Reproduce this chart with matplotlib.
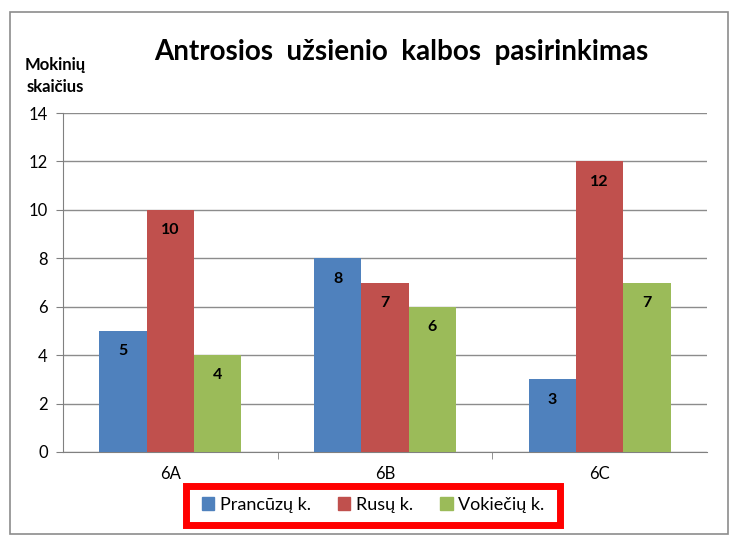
import matplotlib
matplotlib.use("Agg")
import matplotlib.pyplot as plt
import matplotlib.patches as mpatches
import numpy as np

categories = ["6A", "6B", "6C"]
series_names = ["Prancūzų k.", "Rusų k.", "Vokiečių k."]
prancuzu = [5, 8, 3]
rusu = [10, 7, 12]
vokieciu = [4, 6, 7]
yticks = [0, 2, 4, 6, 8, 10, 12, 14]
colors = ["#4F81BD", "#C0504D", "#9BBB59"]

plt.rcParams['font.family'] = ['Lato', 'DejaVu Sans']

W, H = 740, 545
fig = plt.figure(figsize=(W/100, H/100), dpi=100)
fig.patch.set_facecolor("white")

# chart border
fig.add_artist(mpatches.Rectangle((10/W, 1-534/H), (728-10)/W, (534-12)/H,
                                  transform=fig.transFigure, fill=False,
                                  edgecolor="#8c8c8c", lw=1.2))

left, right, top, bottom = 63, 707, 113, 452
ax = fig.add_axes([left/W, 1-bottom/H, (right-left)/W, (bottom-top)/H])

x = np.arange(len(categories))
bw = 0.22
for i, (vals, name) in enumerate(zip([prancuzu, rusu, vokieciu], series_names)):
    bars = ax.bar(x + (i-1)*bw, vals, bw, color=colors[i], label=name, zorder=3)
    for b, v in zip(bars, vals):
        ax.text(b.get_x()+b.get_width()/2, v - 0.55, str(v), ha="center", va="top",
                fontsize=11.5, fontweight="bold", color="black", zorder=4)

ax.set_xlim(-0.5, 2.5)
ax.set_ylim(0, 14)
ax.set_yticks(yticks)
ax.set_yticklabels([str(t) for t in yticks], fontsize=12)
ax.set_xticks(x)
ax.set_xticklabels(categories, fontsize=12)
ax.set_xticks([0.5, 1.5], minor=True)
ax.tick_params(axis="x", which="major", length=0, pad=10)
ax.tick_params(axis="x", which="minor", length=5, color="#808080")
ax.tick_params(axis="y", length=5, color="#808080", pad=6)
ax.grid(axis="y", color="#8c8c8c", lw=1, zorder=0)
for s in ["top", "right"]:
    ax.spines[s].set_visible(False)
ax.spines["left"].set_color("#808080")
ax.spines["bottom"].set_color("#808080")

fig.text(0.5*(150+652)/W, 1-52/H, "Antrosios  užsienio  kalbos  pasirinkimas",
         ha="center", va="center", fontsize=20, fontweight="bold")
fig.text(55/W, 1-76/H, "Mokinių\nskaičius", ha="center", va="center",
         fontsize=12, fontweight="bold", linespacing=1.5)

# legend with red box
handles = [mpatches.Patch(color=c) for c in colors]
leg = fig.legend(handles, series_names, loc="center", bbox_to_anchor=(373/W, 1-505/H),
                 ncol=3, frameon=False, fontsize=13, handlelength=0.7,
                 handleheight=0.7, handletextpad=0.3, columnspacing=1.5)
fig.add_artist(mpatches.Rectangle((186/W, 1-525/H), (560-186)/W, (525-486)/H,
                                  transform=fig.transFigure, fill=False,
                                  edgecolor="#FF0000", lw=5))

fig.savefig("out.png", dpi=100)
